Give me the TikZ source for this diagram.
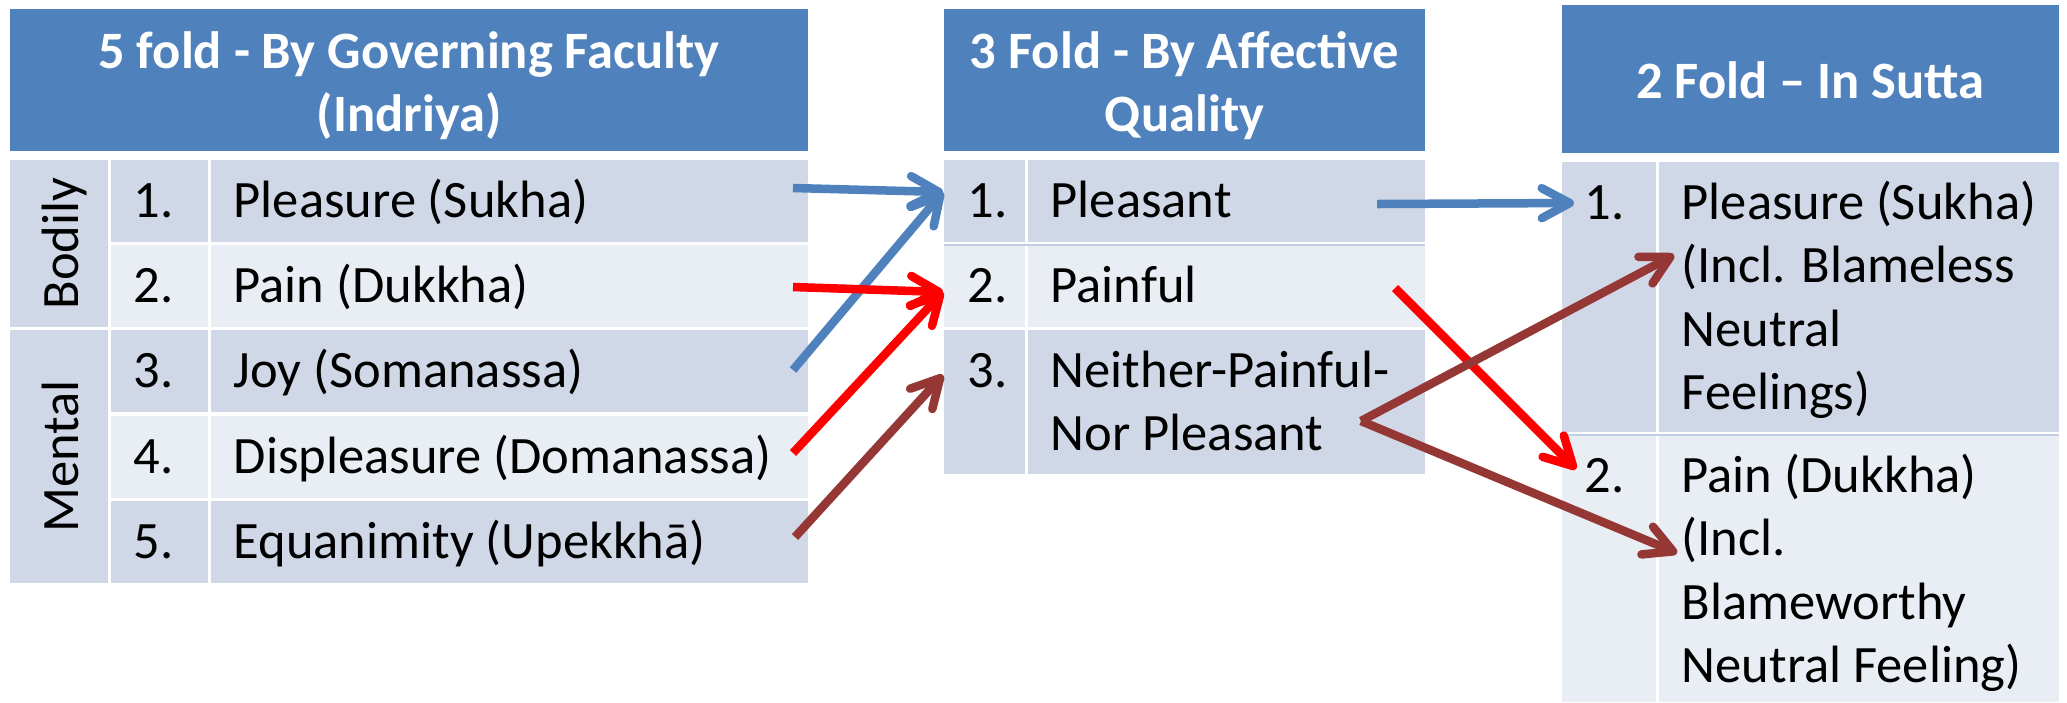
\documentclass[tikz,border=0pt]{standalone}
\usepackage{fontspec}
\setmainfont{Carlito}
\usetikzlibrary{calc,fit,arrows.meta}

\definecolor{headblue}{HTML}{4F81BD}
\definecolor{rowdark}{HTML}{D0D8E8}
\definecolor{rowlight}{HTML}{E9EDF4}
\definecolor{rowline}{HTML}{C3CEE4}
\definecolor{arrowred}{HTML}{FF0000}
\definecolor{arrowbrown}{HTML}{953735}

\tikzset{
	cell/.style={fill=#1, draw=none, inner sep=0pt, outer sep=0pt},
	body/.style={font=\fontsize{14.94pt}{18.07pt}\selectfont, inner sep=0pt, anchor=base west},
	lines/.style={body, text width=#1, align=flush left},
	head/.style={body, font=\fontsize{14.94pt}{18.07pt}\selectfont\bfseries, text=white, anchor=base, align=flush center},
	side/.style={body, rotate=90, anchor=base},
	feel/.style={draw=#1, line width=0.085cm, -{Straight Barb[length=0.28cm, width=0.3cm, round]}},
}

\begin{document}
\begin{tikzpicture}[x=0.01cm, y=-0.01cm]
	%%%%% START %%%%%
	\useasboundingbox (0,0) rectangle (2067,702);
	
	% 5 fold table
	\node[cell=headblue, fit={(10,9) (808,151)}] (h1) {};
	\node[head, text width=7.98cm] (h1t) at (409,68) {5 fold - By Governing Faculty\\(Indriya)};
	
	\node[cell=rowdark, fit={(10,160) (108,327)}] (g1) {};
	\node[cell=rowdark, fit={(10,330) (108,583)}] (g2) {};
	\node[side] (g1t) at (78,243.5) {Bodily};
	\node[side] (g2t) at (78,456.5) {Mental};
	
	\node[cell=rowdark, fit={(111,160) (208,242)}] (n11) {};
	\node[cell=rowdark, fit={(211,160) (808,242)}] (t11) {};
	\node[cell=rowlight, fit={(111,245) (208,327)}] (n12) {};
	\node[cell=rowlight, fit={(211,245) (808,327)}] (t12) {};
	\node[cell=rowdark, fit={(111,330) (208,412)}] (n13) {};
	\node[cell=rowdark, fit={(211,330) (808,412)}] (t13) {};
	\node[cell=rowlight, fit={(111,416) (208,498)}] (n14) {};
	\node[cell=rowlight, fit={(211,416) (808,498)}] (t14) {};
	\node[cell=rowdark, fit={(111,501) (208,583)}] (n15) {};
	\node[cell=rowdark, fit={(211,501) (808,583)}] (t15) {};
	
	\node[body] (n11t) at (133,217) {1.};
	\node[body] (t11t) at (233,217) {Pleasure (Sukha)};
	\node[body] (n12t) at (133,302) {2.};
	\node[body] (t12t) at (233,302) {Pain (Dukkha)};
	\node[body] (n13t) at (133,387) {3.};
	\node[body] (t13t) at (233,387) {Joy (Somanassa)};
	\node[body] (n14t) at (133,473) {4.};
	\node[body] (t14t) at (233,473) {Displeasure (Domanassa)};
	\node[body] (n15t) at (133,558) {5.};
	\node[body] (t15t) at (233,558) {Equanimity (Upekkhā)};
	
	% 3 fold table
	\node[cell=headblue, fit={(944,9) (1425,151)}] (h2) {};
	\node[head, text width=4.81cm] (h2t) at (1184.5,68) {3 Fold - By Affective\\Quality};
	
	\node[cell=rowdark, fit={(944,160) (1025,242)}] (n21) {};
	\node[cell=rowdark, fit={(1028,160) (1425,242)}] (t21) {};
	\node[cell=rowlight, fit={(944,245) (1025,327)}] (n22) {};
	\node[cell=rowlight, fit={(1028,245) (1425,327)}] (t22) {};
	\node[cell=rowdark, fit={(944,330) (1025,474)}] (n23) {};
	\node[cell=rowdark, fit={(1028,330) (1425,474)}] (t23) {};
	\draw[rowline, line width=0.015cm] (n22.north west) -- (t22.north east);
	
	\node[body] (n21t) at (967,217) {1.};
	\node[body] (t21t) at (1050,217) {Pleasant};
	\node[body] (n22t) at (967,302) {2.};
	\node[body] (t22t) at (1050,302) {Painful};
	\node[body] (n23t) at (967,387) {3.};
	\node[lines=3.6cm] (t23t) at (1050,387) {Neither-Painful-\\Nor Pleasant};
	
	% 2 fold table
	\node[cell=headblue, fit={(1562,5) (2059,153)}] (h3) {};
	\node[head] (h3t) at (1810.5,98) {2 Fold – In Sutta};
	
	\node[cell=rowdark, fit={(1562,162) (1656,432)}] (n31) {};
	\node[cell=rowdark, fit={(1659,162) (2059,432)}] (t31) {};
	\node[cell=rowlight, fit={(1562,435) (1656,702)}] (n32) {};
	\node[cell=rowlight, fit={(1659,435) (2059,702)}] (t32) {};
	\draw[rowline, line width=0.015cm] (n32.north west) -- (t32.north east);
	
	\node[body] (n31t) at (1584,219) {1.};
	\node[lines=3.7cm] (t31t) at (1681,219) {Pleasure (Sukha)\\(Incl. Blameless\\Neutral\\Feelings)};
	\node[body] (n32t) at (1584,492) {2.};
	\node[lines=3.7cm] (t32t) at (1681,492) {Pain (Dukkha)\\(Incl.\\Blameworthy\\Neutral Feeling)};
	
	% arrows
	\draw[feel=headblue] ($(t11.north east)+(-15,28)$) -- ($(n21.north west)+(-1,32)$);
	\draw[feel=headblue] ($(t13.north east)+(-15,40)$) -- ($(n21.north west)+(-1,32)$);
	\draw[feel=arrowred] ($(t12.north east)+(-15,42)$) -- ($(n22.north west)+(-1,47)$);
	\draw[feel=arrowred] ($(t14.north east)+(-15,37)$) -- ($(n22.north west)+(-1,47)$);
	\draw[feel=arrowbrown] ($(t15.north east)+(-13,36)$) -- ($(n23.north west)+(-1,45)$);
	
	\draw[feel=headblue] ($(t21.north east)+(-48,44)$) -- ($(n31.north west)+(12,41)$);
	\draw[feel=arrowred] ($(t22.north east)+(-30,43)$) -- ($(n32.north west)+(14,34)$);
	\draw[feel=arrowbrown] ($(t23.north east)+(-64,91)$) -- ($(t31.north west)+(15,93)$);
	\draw[feel=arrowbrown] ($(t23.north east)+(-64,91)$) -- ($(t32.north west)+(18,118)$);
	
	%%%%% END %%%%%
\end{tikzpicture}
\end{document}
